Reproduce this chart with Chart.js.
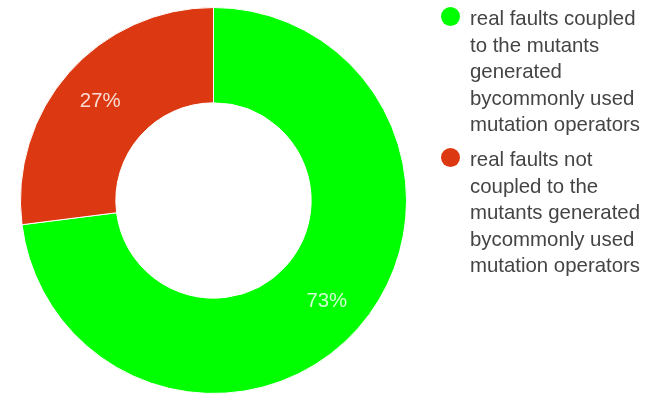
<!DOCTYPE html>
<html>
<head>
<meta charset="utf-8">
<script src="https://cdn.jsdelivr.net/npm/chart.js@4"></script>
<style>
  html, body { margin: 0; padding: 0; background: #fff; }
  #wrap { position: relative; width: 648px; height: 396px; overflow: hidden; }
  #myChart { position: absolute; left: 0; top: 0; }
  #legend {
    position: absolute; left: 441px; top: 5px;
    display: flex; flex-direction: column; gap: 8.5px;
    font-family: 'Liberation Sans', Arial, sans-serif; font-size: 20.4px;
    line-height: 26.5px; color: #444;
  }
  .item { position: relative; padding-left: 29px; }
  .dot { position: absolute; left: 0; top: 1.8px; width: 19px; height: 19px; border-radius: 50%; }
</style>
</head>
<body>
<div id="wrap">
  <canvas id="myChart" width="648" height="396"></canvas>
  <div id="legend"></div>
</div>
<script>
const sliceLabels = [
  'real faults coupled to the mutants generated bycommonly used mutation operators',
  'real faults not coupled to the mutants generated bycommonly used mutation operators'
];
const legendLines = [
  ['real faults coupled', 'to the mutants', 'generated', 'bycommonly used', 'mutation operators'],
  ['real faults not', 'coupled to the', 'mutants generated', 'bycommonly used', 'mutation operators']
];
const sliceValues = [73, 27];
const sliceColors = ['#00ff00', '#dc3912'];

function renderLegend() {
  let legend = document.getElementById('legend');
  legendLines.forEach((lines, i) => {
    legend.insertAdjacentHTML('beforeend',
      `<div class="item"><span class="dot" style="background:${sliceColors[i]}"></span>${lines.join('<br>')}</div>`);
  });
}

const sliceLabelPlugin = {
  id: 'sliceLabels',
  afterDatasetsDraw(chart) {
    const ctx = chart.ctx;
    const meta = chart.getDatasetMeta(0);
    const total = sliceValues.reduce((a, b) => a + b, 0);
    ctx.save();
    ctx.font = '20.4px "Liberation Sans", Arial, sans-serif';
    ctx.fillStyle = 'rgba(255,255,255,0.82)';
    ctx.textAlign = 'center';
    ctx.textBaseline = 'middle';
    meta.data.forEach((arc, i) => {
      const p = arc.getProps(['x', 'y', 'startAngle', 'endAngle', 'innerRadius', 'outerRadius'], true);
      const mid = (p.startAngle + p.endAngle) / 2;
      const r = p.innerRadius + 0.56 * (p.outerRadius - p.innerRadius);
      const text = Math.round(sliceValues[i] / total * 100) + '%';
      ctx.fillText(text, p.x + Math.cos(mid) * r, p.y + Math.sin(mid) * r + 1);
    });
    ctx.restore();
  }
};

function loadChart() {
  new Chart(document.getElementById('myChart'), {
    type: 'doughnut',
    data: {
      labels: sliceLabels,
      datasets: [{
        data: sliceValues,
        backgroundColor: sliceColors,
        borderColor: '#fff',
        borderWidth: 1,
      }],
    },
    options: {
      responsive: false,
      animation: false,
      cutout: '50.6%',
      layout: { padding: { left: 20, top: 7, right: 241, bottom: 2 } },
      plugins: { legend: { display: false }, tooltip: { enabled: false } },
    },
    plugins: [sliceLabelPlugin],
  });
}

renderLegend();
loadChart();
</script>
</body>
</html>
